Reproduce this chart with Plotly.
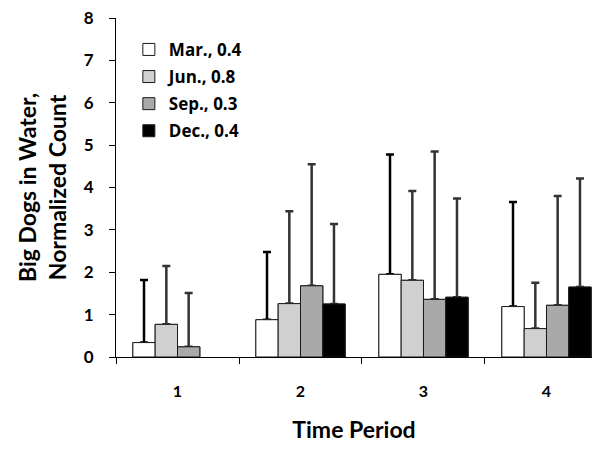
import plotly.graph_objects as go

periods = ["1", "2", "3", "4"]
series_names = ["Mar., 0.4", "Jun., 0.8", "Sep., 0.3", "Dec., 0.4"]
mar_vals = [0.34, 0.88, 1.95, 1.19]
jun_vals = [0.77, 1.26, 1.81, 0.67]
sep_vals = [0.24, 1.68, 1.36, 1.22]
dec_vals = [None, 1.25, 1.41, 1.65]
mar_top = [1.82, 2.48, 4.78, 3.66]
jun_top = [2.15, 3.44, 3.92, 1.75]
sep_top = [1.51, 4.55, 4.85, 3.80]
dec_top = [None, 3.14, 3.74, 4.21]

fills = ["#ffffff", "#d0d0d0", "#a9a9a9", "#000000"]
errcols = ["#000000", "#333333", "#333333", "#333333"]

FONT = "Lato"
all_vals = [mar_vals, jun_vals, sep_vals, dec_vals]
all_tops = [mar_top, jun_top, sep_top, dec_top]

fig = go.Figure()
# bars with upward error bars
for i, (name, vals, tops, fc, ec) in enumerate(zip(series_names, all_vals, all_tops, fills, errcols)):
    errs = [(t - v) if (t is not None and v is not None) else None for v, t in zip(vals, tops)]
    fig.add_trace(go.Bar(
        x=periods, y=vals, name=name, legendgroup=name, offsetgroup=str(i),
        marker=dict(color=fc, line=dict(color="#1a1a1a", width=1)),
        error_y=dict(type="data", symmetric=False, array=errs,
                     arrayminus=[0] * len(errs), color=ec, thickness=2.5, width=4),
    ))
# same bars redrawn on top so the error bars rise out of the bar tops
for i, (name, vals, fc) in enumerate(zip(series_names, all_vals, fills)):
    fig.add_trace(go.Bar(
        x=periods, y=vals, name=name, legendgroup=name, offsetgroup=str(i),
        showlegend=False, hoverinfo="skip",
        marker=dict(color=fc, line=dict(color="#1a1a1a", width=1)),
    ))

fig.update_layout(
    width=606, height=452,
    margin=dict(l=116, r=14, t=18, b=95),
    paper_bgcolor="white", plot_bgcolor="white",
    barmode="group", bargap=0.274, bargroupgap=0,
    font=dict(family=FONT, color="#000000"),
    showlegend=True,
    legend=dict(x=0.027, y=0.959, xanchor="left", yanchor="top",
                bgcolor="rgba(0,0,0,0)", tracegroupgap=2,
                font=dict(family="Open Sans", size=17, color="#000000", weight="bold")),
    xaxis=dict(
        type="category", range=[-0.5, 3.37], automargin=False,
        showline=True, linecolor="#000000", linewidth=1,
        ticks="outside", tickson="boundaries", ticklen=6, tickcolor="#000000",
        tickfont=dict(family=FONT, size=16, color="#000000", weight="bold"),
        ticklabelstandoff=20,
        title=dict(text="<b>Time Period</b>", font=dict(family=FONT, size=23, color="#000000"),
                   standoff=22),
        showgrid=False, zeroline=False,
    ),
    yaxis=dict(
        range=[0, 8], dtick=1, automargin=False,
        showline=True, linecolor="#000000", linewidth=1,
        ticks="outside", ticklen=6, tickcolor="#000000",
        tickfont=dict(family=FONT, size=17, color="#000000", weight="bold"),
        ticklabelstandoff=12,
        title=dict(text="<b>Big Dogs in Water,<br>Normalized Count</b>",
                   font=dict(family=FONT, size=23, color="#000000"), standoff=10),
        showgrid=False, zeroline=False,
    ),
)

fig.write_html("out.html", post_script="document.body.style.margin='0';",
               config={"displayModeBar": False})
